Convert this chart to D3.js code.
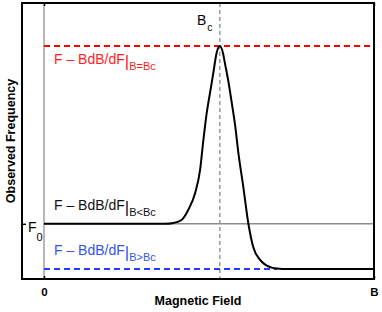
<!DOCTYPE html>
<html>
<head>
<meta charset="utf-8">
<script src="https://cdn.jsdelivr.net/npm/d3@7"></script>
<style>
  body { margin: 0; background: #fff; }
  text { font-family: "Liberation Sans", Arial, sans-serif; }
</style>
</head>
<body>
<div id="chart"></div>
<script>
// magnetic field, as fraction of B
var fieldB = [0, 0.321, 0.367, 0.392, 0.417, 0.437, 0.458, 0.473, 0.483, 0.493, 0.503, 0.513, 0.523, 0.533,
  0.543, 0.548, 0.558, 0.569, 0.579, 0.589, 0.604, 0.619, 0.634, 0.655, 0.685, 0.706, 0.736, 1];
// observed frequency (arbitrary units)
var observedF = [0.2, 0.2, 0.2, 0.203, 0.214, 0.25, 0.312, 0.395, 0.504, 0.601, 0.674, 0.746, 0.819, 0.844,
  0.815, 0.783, 0.721, 0.638, 0.558, 0.457, 0.333, 0.203, 0.116, 0.069, 0.043, 0.038, 0.036, 0.036];

var F0 = 0.2;
var Bc = 0.533;
var FatBc = 0.844;
var FaboveBc = 0.036;
var blueEndB = 0.706;

var xTicks = [0, 1];
var xTickLabels = ["0", "B"];
var yTicks = [F0];

var svgWidth = 382, svgHeight = 312;
var margin = { top: 3, right: 8, bottom: 33, left: 22 };
var width = svgWidth - margin.left - margin.right;
var height = svgHeight - margin.top - margin.bottom;

var svg = d3.select("#chart")
  .append("svg")
  .attr("width", svgWidth)
  .attr("height", svgHeight);

var chartGroup = svg.append("g")
  .attr("transform", `translate(${margin.left}, ${margin.top})`);

var x = d3.scaleLinear()
  .domain([-22 / 330, 1])
  .range([0, width]);

var y = d3.scaleLinear()
  .domain([0, 1])
  .range([height, 0]);

// reference lines
chartGroup.append("line")
  .attr("x1", x(0)).attr("x2", x(0))
  .attr("y1", 0).attr("y2", height)
  .attr("stroke", "#888").attr("stroke-width", 1.2);

chartGroup.append("line")
  .attr("x1", x(Bc)).attr("x2", x(Bc))
  .attr("y1", 0).attr("y2", height)
  .attr("stroke", "#666").attr("stroke-width", 1)
  .attr("stroke-dasharray", "4,3");

chartGroup.append("line")
  .attr("x1", x(0)).attr("x2", x(1))
  .attr("y1", y(F0)).attr("y2", y(F0))
  .attr("stroke", "#8c8c8c").attr("stroke-width", 1.6);

chartGroup.append("line")
  .attr("x1", x(0)).attr("x2", x(1))
  .attr("y1", y(FatBc)).attr("y2", y(FatBc))
  .attr("stroke", "#ff0000").attr("stroke-width", 2)
  .attr("stroke-dasharray", "6,4");

chartGroup.append("line")
  .attr("x1", x(0)).attr("x2", x(blueEndB))
  .attr("y1", y(FaboveBc)).attr("y2", y(FaboveBc))
  .attr("stroke", "#1f3cff").attr("stroke-width", 2)
  .attr("stroke-dasharray", "6,4");

// curve
var pts = fieldB.map((b, i) => [b, observedF[i]]);
var line = d3.line()
  .x(d => x(d[0]))
  .y(d => y(d[1]))
  .curve(d3.curveMonotoneX);

chartGroup.append("path")
  .datum(pts)
  .attr("d", line)
  .attr("fill", "none")
  .attr("stroke", "#000")
  .attr("stroke-width", 2);

// frame
chartGroup.append("rect")
  .attr("width", width).attr("height", height)
  .attr("fill", "none").attr("stroke", "#000").attr("stroke-width", 2);

// axes, ticks inward
var bottomAxis = d3.axisBottom(x).tickValues(xTicks).tickSizeInner(-3).tickSizeOuter(0)
  .tickFormat((d, i) => xTickLabels[i]);
var topAxis = d3.axisTop(x).tickValues(xTicks).tickSizeInner(-3).tickSizeOuter(0).tickFormat("");
var leftAxis = d3.axisLeft(y).tickValues(yTicks).tickSizeInner(-4).tickSizeOuter(0).tickFormat("");

var gx = chartGroup.append("g")
  .attr("transform", `translate(0, ${height})`)
  .call(bottomAxis);
gx.select(".domain").remove();
gx.selectAll("line").attr("stroke-width", 1.5);
gx.selectAll("text")
  .attr("y", 9)
  .attr("font-size", 11.5)
  .attr("font-weight", "bold")
  .attr("fill", "#000");

var gt = chartGroup.append("g").call(topAxis);
gt.select(".domain").remove();
gt.selectAll("line").attr("stroke-width", 1.5);

var gy = chartGroup.append("g").call(leftAxis);
gy.select(".domain").remove();
gy.selectAll("line").attr("stroke-width", 1.5);

var f0Label = chartGroup.append("text")
  .attr("x", 6)
  .attr("y", y(F0) + 8)
  .attr("font-size", 14)
  .attr("fill", "#000");
f0Label.append("tspan").text("F");
f0Label.append("tspan").attr("font-size", 11).attr("dy", 9).text("0");

// Bc label
var bcLabel = chartGroup.append("text")
  .attr("x", x(Bc) - 23)
  .attr("y", 22)
  .attr("font-size", 14)
  .attr("fill", "#000");
bcLabel.append("tspan").text("B");
bcLabel.append("tspan").attr("font-size", 10.5).attr("dy", 6).attr("dx", 1).text("c");

// in-plot labels
function eqLabel(yPos, color, sub) {
  var t = chartGroup.append("text")
    .attr("x", x(0) + 10)
    .attr("y", yPos)
    .attr("font-size", 14)
    .attr("fill", color);
  t.append("tspan").text("F \u2013 BdB/dF");
  t.append("tspan").attr("font-size", 17).attr("dy", 3).text("|");
  t.append("tspan").attr("font-size", 11).attr("dy", 3).text(sub);
}
eqLabel(y(FatBc) + 18, "#ff1e1e", "B=Bc");
eqLabel(y(F0) - 14, "#111", "B<Bc");
eqLabel(y(FaboveBc) - 14, "#3355ee", "B>Bc");

// axis titles
chartGroup.append("text")
  .attr("x", width / 2)
  .attr("y", height + 26)
  .attr("text-anchor", "middle")
  .attr("font-size", 12.5)
  .attr("font-weight", "bold")
  .text("Magnetic Field");

chartGroup.append("text")
  .attr("transform", "rotate(-90)")
  .attr("x", -height / 2)
  .attr("y", -7)
  .attr("text-anchor", "middle")
  .attr("font-size", 12.5)
  .attr("font-weight", "bold")
  .text("Observed Frequency");
</script>
</body>
</html>
